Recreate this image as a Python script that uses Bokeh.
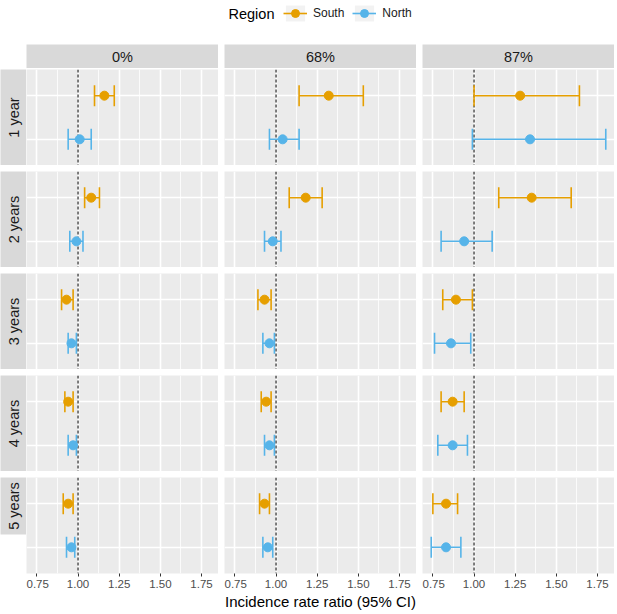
import math
from bokeh.plotting import figure
from bokeh.layouts import row, column
from bokeh.models import (ColumnDataSource, Range1d, FactorRange, Whisker, TeeHead, Span,
                          FixedTicker, NumeralTickFormatter, Label, Legend, LegendItem,
                          Spacer, CategoricalTicker)
from bokeh.embed import file_html
from bokeh.resources import INLINE

# ---------------- data ----------------
COVERAGE = ["0%", "68%", "87%"]
PERIODS = ["1 year", "2 years", "3 years", "4 years", "5 years"]
REGIONS = ["South", "North"]
REGION_COLORS = ["#E69F00", "#56B4E9"]

# values indexed [coverage][period]
SOUTH_IRR = [[1.16, 1.08, 0.93, 0.94, 0.94],
             [1.32, 1.18, 0.93, 0.94, 0.93],
             [1.28, 1.35, 0.89, 0.87, 0.83]]
SOUTH_LO = [[1.10, 1.04, 0.90, 0.92, 0.91],
            [1.14, 1.08, 0.89, 0.91, 0.90],
            [1.00, 1.15, 0.81, 0.80, 0.75]]
SOUTH_HI = [[1.22, 1.13, 0.97, 0.97, 0.97],
            [1.53, 1.28, 0.97, 0.97, 0.96],
            [1.64, 1.59, 0.99, 0.94, 0.90]]
NORTH_IRR = [[1.01, 0.99, 0.96, 0.97, 0.96],
             [1.04, 0.98, 0.96, 0.96, 0.95],
             [1.34, 0.94, 0.86, 0.87, 0.83]]
NORTH_LO = [[0.94, 0.95, 0.94, 0.94, 0.93],
            [0.96, 0.93, 0.92, 0.93, 0.92],
            [0.99, 0.80, 0.76, 0.78, 0.74]]
NORTH_HI = [[1.08, 1.03, 0.99, 0.99, 0.98],
            [1.14, 1.03, 0.99, 0.99, 0.98],
            [1.80, 1.11, 0.98, 0.96, 0.92]]

X_TICKS = [0.75, 1.00, 1.25, 1.50, 1.75]
X_MINOR = [0.625, 0.875, 1.125, 1.375, 1.625, 1.875]
REF_IRR = 1.0
X_TITLE = "Incidence rate ratio (95% CI)"
LEGEND_TITLE = "Region"

REGION_DATA = {
    "South": (SOUTH_IRR, SOUTH_LO, SOUTH_HI),
    "North": (NORTH_IRR, NORTH_LO, NORTH_HI),
}

# ---------------- style / layout ----------------
FONT = "Liberation Sans"
PANEL_BG = "#EBEBEB"
STRIP_BG = "#D9D9D9"
STRIP_W = 26
STRIP_H = 24
PW = 192
PH = 96
HGAP = 6
VGAP = 6
LEG_H = 26
LEG_GAP = 18

all_lo = [v for reg in REGIONS for r in REGION_DATA[reg][1] for v in r]
all_hi = [v for reg in REGIONS for r in REGION_DATA[reg][2] for v in r]
span = max(all_hi) - min(all_lo)
XMIN = min(all_lo) - 0.05 * span
XMAX = max(all_hi) + 0.05 * span


def make_panel(ci, pi, bottom, axis_label):
    p = figure(frame_width=PW, frame_height=PH,
               x_range=Range1d(XMIN, XMAX),
               y_range=FactorRange(factors=["North", "South"], range_padding=0.1,
                                   range_padding_units="absolute"),
               x_axis_location="below" if bottom else None, y_axis_location=None,
               toolbar_location=None, output_backend="svg", min_border=0,
               background_fill_color=PANEL_BG, border_fill_color="white",
               outline_line_color=None)
    p.xgrid.ticker = FixedTicker(ticks=X_TICKS, minor_ticks=X_MINOR)
    p.xgrid.grid_line_color = "white"
    p.xgrid.grid_line_width = 1.6
    p.xgrid.minor_grid_line_color = "white"
    p.xgrid.minor_grid_line_width = 0.8
    p.ygrid.ticker = CategoricalTicker()
    p.ygrid.grid_line_color = "white"
    p.ygrid.grid_line_width = 1.6

    p.add_layout(Span(location=REF_IRR, dimension="height", line_color="black",
                      line_width=1, line_dash="3 2", level="underlay"))

    for reg, col in zip(REGIONS, REGION_COLORS):
        irr, lo, hi = REGION_DATA[reg]
        src = ColumnDataSource(dict(y=[reg], irr=[irr[ci][pi]], lo=[lo[ci][pi]], hi=[hi[ci][pi]]))
        w = Whisker(source=src, base="y", lower="lo", upper="hi", dimension="width",
                    line_color=col, line_width=1.6, level="underlay",
                    upper_head=TeeHead(size=21, line_color=col, line_width=1.6),
                    lower_head=TeeHead(size=21, line_color=col, line_width=1.6))
        p.add_layout(w)
        p.scatter(x="irr", y="y", source=src, size=9, fill_color=col, line_color=col)

    if bottom:
        ax = p.xaxis[0]
        ax.ticker = FixedTicker(ticks=X_TICKS, minor_ticks=[])
        ax.formatter = NumeralTickFormatter(format="0.00")
        ax.axis_line_color = None
        ax.major_tick_line_color = "#333333"
        ax.major_tick_out = 3
        ax.major_tick_in = 0
        ax.minor_tick_line_color = None
        ax.major_label_text_font = FONT
        ax.major_label_text_font_size = "11.5px"
        ax.major_label_text_color = "#4D4D4D"
        ax.major_label_standoff = 3
        ax.axis_label = axis_label
        ax.axis_label_text_font = FONT
        ax.axis_label_text_font_size = "15px"
        ax.axis_label_text_font_style = "normal"
        ax.axis_label_text_color = "black"
        ax.axis_label_standoff = 2
    return p


def make_strip(text, w, h, vertical):
    s = figure(width=w, height=h, x_range=Range1d(0, 1), y_range=Range1d(0, 1),
               x_axis_location=None, y_axis_location=None, toolbar_location=None,
               output_backend="svg", min_border=0, background_fill_color=STRIP_BG,
               border_fill_color="white", outline_line_color=None)
    s.grid.visible = False
    s.add_layout(Label(x=0.5, y=0.5, text=text, angle=(math.pi / 2 if vertical else 0),
                       text_align="center", text_baseline="middle",
                       text_font=FONT, text_font_size="14.5px", text_color="#1A1A1A"))
    return s


# ---------------- legend ----------------
TOTAL_W = STRIP_W + 3 * PW + 2 * HGAP
leg = figure(width=TOTAL_W, height=LEG_H, x_range=Range1d(0, 1), y_range=Range1d(0, 1),
             x_axis_location=None, y_axis_location=None, toolbar_location=None,
             output_backend="svg", min_border=0, outline_line_color=None,
             background_fill_color="white", border_fill_color="white")
leg.grid.visible = False
items = []
for reg, col in zip(REGIONS, REGION_COLORS):
    key_src = ColumnDataSource(dict(x=[0.5], y=[0.5]))
    bg = leg.rect(x="x", y="y", width=1, height=1, source=key_src,
                  fill_color="#F2F2F2", line_color=None, visible=False)
    ln = leg.segment(x0="x", y0="y", x1="x", y1="y", source=key_src,
                     line_color=col, line_width=1.6, visible=False)
    pt = leg.scatter(x="x", y="y", source=key_src, size=9, fill_color=col,
                     line_color=col, visible=False)
    items.append(LegendItem(label=reg, renderers=[bg, ln, pt]))
legend = Legend(items=items, orientation="horizontal", location=(283, 3),
                glyph_width=24, glyph_height=20, label_standoff=6, spacing=8,
                padding=0, margin=0, border_line_color=None, background_fill_alpha=0,
                inactive_fill_alpha=0,
                label_text_font=FONT, label_text_font_size="12px", label_text_color="#1A1A1A")
leg.add_layout(legend, "center")
leg.add_layout(Label(x=228, y=LEG_H / 2, x_units="screen", y_units="screen",
                     text=LEGEND_TITLE, text_baseline="middle", text_align="left",
                     text_font=FONT, text_font_size="14.5px", text_color="black"))

# ---------------- grid of panels ----------------
top_items = [Spacer(width=STRIP_W, height=STRIP_H)]
for ci, cov in enumerate(COVERAGE):
    if ci:
        top_items.append(Spacer(width=HGAP, height=STRIP_H))
    top_items.append(make_strip(cov, PW, STRIP_H, False))
top_row = row(*top_items)

children = [leg, Spacer(width=TOTAL_W, height=LEG_GAP), top_row, Spacer(width=TOTAL_W, height=1)]
for pi, per in enumerate(PERIODS):
    bottom = pi == len(PERIODS) - 1
    row_items = [make_strip(per, STRIP_W, PH, True)]
    for ci in range(len(COVERAGE)):
        if ci:
            row_items.append(Spacer(width=HGAP, height=PH))
        lab = X_TITLE if (bottom and ci == 1) else ""
        row_items.append(make_panel(ci, pi, bottom, lab))
    if pi:
        children.append(Spacer(width=TOTAL_W, height=VGAP))
    children.append(row(*row_items))

layout = column(*children)

open("out.html", "w").write(file_html(layout, INLINE))
